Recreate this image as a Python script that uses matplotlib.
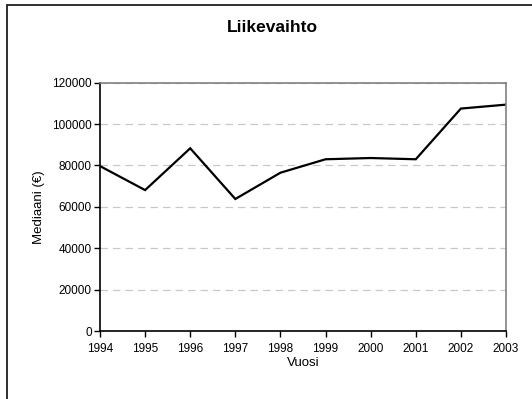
import matplotlib.pyplot as plt
from matplotlib.patches import Rectangle

plt.rcParams['font.family'] = ['Liberation Sans', 'DejaVu Sans']

# Data
vuodet = [1994, 1995, 1996, 1997, 1998, 1999, 2000, 2001, 2002, 2003]
mediaani = [79700, 68100, 88300, 63800, 76500, 83000, 83600, 83000, 107500, 109400]

W, H = 532, 399
fig = plt.figure(figsize=(W / 100, H / 100), dpi=100)
ax = fig.add_axes([100 / W, 1 - 331 / H, 406 / W, (331 - 82.7) / H])

ax.plot(vuodet, mediaani, color='black', linewidth=1.6, solid_joinstyle='miter')

ax.set_xlim(1994, 2003)
ax.set_ylim(0, 120000)
ax.set_xticks(vuodet)
ax.set_yticks(range(0, 120001, 20000))
ax.tick_params(axis='both', direction='out', length=4, width=1, labelsize=8.5)
ax.tick_params(axis='x', pad=5)
ax.tick_params(axis='y', pad=2)
ax.yaxis.grid(True, color='#c8c8c8', linestyle=(0, (6, 4)), linewidth=0.9)
ax.set_axisbelow(True)

for s in ['left', 'bottom']:
    ax.spines[s].set_color('black')
    ax.spines[s].set_linewidth(1.2)
for s in ['top', 'right']:
    ax.spines[s].set_color('#808080')
    ax.spines[s].set_linewidth(1.2)

ax.set_xlabel('Vuosi', fontsize=9.5, labelpad=1)
ax.set_ylabel('Mediaani (€)', fontsize=9.5, labelpad=5)
fig.text(272 / W, 1 - 28 / H, 'Liikevaihto', ha='center', va='center',
         fontsize=12.5, fontweight='bold')

# chart frame (continues past the right and bottom edges)
fig.patches.append(Rectangle((7 / W, -0.1), 1.2, 1 - 5 / H + 0.1,
                             transform=fig.transFigure, fill=False,
                             edgecolor='#202020', linewidth=1.3))

fig.savefig('out.png', dpi=100)
